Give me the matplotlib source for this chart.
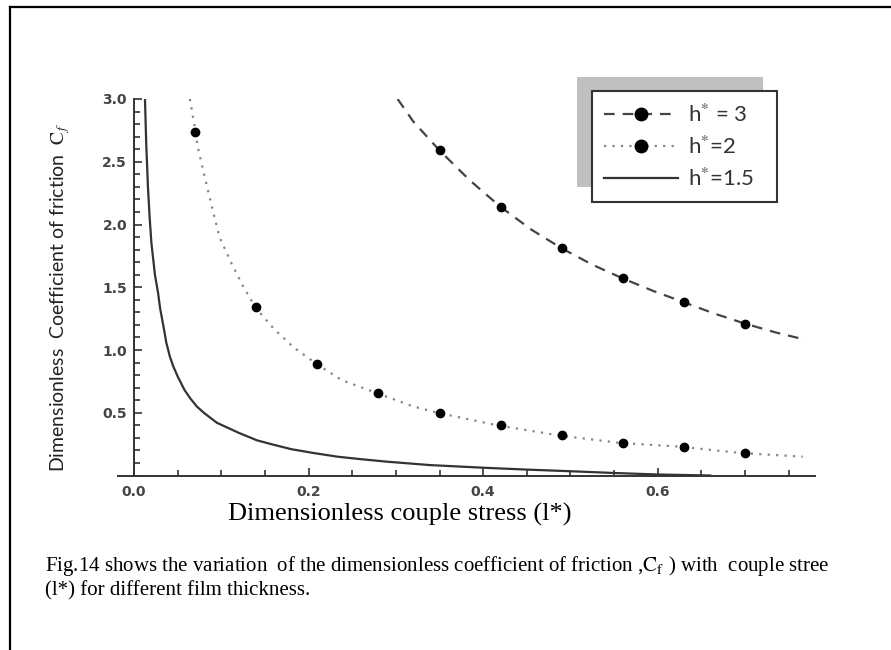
import matplotlib.pyplot as plt
from matplotlib.lines import Line2D
from matplotlib.patches import Rectangle
from matplotlib.ticker import MultipleLocator

plt.rcParams['mathtext.fontset'] = 'stix'

# values
h15_x = [0.0126, 0.013, 0.014, 0.016, 0.018, 0.020, 0.024, 0.0275, 0.030, 0.034,
         0.037, 0.041, 0.045, 0.05, 0.058, 0.065, 0.072, 0.08, 0.095, 0.12,
         0.141, 0.16, 0.18, 0.205, 0.233, 0.26, 0.29, 0.339, 0.40, 0.45,
         0.50, 0.55, 0.60, 0.66]
h15_y = [3.0, 2.9, 2.65, 2.3, 2.05, 1.85, 1.6, 1.46, 1.33, 1.18,
         1.06, 0.95, 0.87, 0.79, 0.68, 0.61, 0.55, 0.50, 0.42, 0.34,
         0.28, 0.245, 0.21, 0.18, 0.15, 0.13, 0.11, 0.083, 0.062, 0.047,
         0.034, 0.02, 0.008, 0.0]

h2_x = [0.064, 0.0705, 0.073, 0.081, 0.090, 0.098, 0.111, 0.124, 0.139, 0.160,
        0.183, 0.209, 0.238, 0.277, 0.32, 0.348, 0.416, 0.486, 0.556, 0.625,
        0.694, 0.766]
h2_y = [3.0, 2.74, 2.62, 2.38, 2.12, 1.90, 1.70, 1.52, 1.34, 1.17,
        1.02, 0.89, 0.76, 0.66, 0.55, 0.50, 0.40, 0.32, 0.26, 0.23,
        0.18, 0.15]
h2_pts_x = [0.07, 0.14, 0.21, 0.28, 0.35, 0.42, 0.49, 0.56, 0.63, 0.70]
h2_pts_y = [2.74, 1.34, 0.89, 0.66, 0.50, 0.40, 0.32, 0.26, 0.23, 0.18]

h3_x = [0.302, 0.32, 0.35, 0.385, 0.42, 0.455, 0.49, 0.525, 0.56, 0.595,
        0.63, 0.665, 0.70, 0.735, 0.77]
h3_y = [3.0, 2.82, 2.59, 2.35, 2.14, 1.96, 1.81, 1.68, 1.57, 1.47,
        1.38, 1.29, 1.21, 1.14, 1.08]
h3_pts_x = [0.35, 0.42, 0.49, 0.56, 0.63, 0.70]
h3_pts_y = [2.59, 2.14, 1.81, 1.57, 1.38, 1.21]

labels = ["h$^{*}$ = 3", "h$^{*}$=2", "h$^{*}$=1.5"]
xticks = [0.0, 0.2, 0.4, 0.6]
yticks = [0.5, 1.0, 1.5, 2.0, 2.5, 3.0]

W, H = 891, 650
fig = plt.figure(figsize=(8.91, 6.5), dpi=100)
ax = fig.add_axes([118 / W, 1 - 475.5 / H, (815 - 118) / W, (475.5 - 99) / H])
ax.patch.set_visible(False)

dash_style = dict(color="#444444", lw=1.6, dashes=(4.8, 3.6))
dot_style = dict(color="#858585", lw=1.6, dashes=(1, 2.8))
solid_style = dict(color="#333333", lw=1.6)

ax.plot(h3_x, h3_y, **dash_style)
ax.plot(h2_x, h2_y, **dot_style)
ax.plot(h15_x, h15_y, **solid_style)
ax.plot(h3_pts_x, h3_pts_y, "o", color="black", ms=6, zorder=3)
ax.plot(h2_pts_x, h2_pts_y, "o", color="black", ms=6, zorder=3)

ax.set_xlim(-0.0183, 0.7801)
ax.set_ylim(0, 3.0)
ax.spines["left"].set_position(("data", 0))
ax.spines["top"].set_visible(False)
ax.spines["right"].set_visible(False)
for s in ("left", "bottom"):
    ax.spines[s].set_color("#333333")
    ax.spines[s].set_linewidth(1.4)

ax.set_xticks(xticks)
ax.set_xticklabels(["%.1f" % v for v in xticks])
ax.set_yticks(yticks)
ax.set_yticklabels(["%.1f" % v for v in yticks])
ax.xaxis.set_minor_locator(MultipleLocator(0.05))
ax.yaxis.set_minor_locator(MultipleLocator(0.1))
ax.tick_params(which="both", direction="in", color="#333333", width=1.2,
               labelsize=10, labelcolor="#454545")
ax.tick_params(which="major", length=6)
ax.tick_params(which="minor", length=4)
ax.tick_params(axis="x", pad=7)
ax.tick_params(axis="y", pad=5)
for t in ax.get_xticklabels() + ax.get_yticklabels():
    t.set_fontweight("bold")

# legend with grey offset shadow
handles = [
    Line2D([], [], marker="o", ms=9, mfc="black", mec="black", **dash_style),
    Line2D([], [], marker="o", ms=9, mfc="black", mec="black", **dot_style),
    Line2D([], [], **solid_style),
]
leg = ax.legend(handles, labels, loc="upper left", mode="expand",
                bbox_to_anchor=(592 / W, 1 - 201 / H, 185 / W, 110 / H),
                bbox_transform=fig.transFigure,
                borderaxespad=0, fancybox=False, framealpha=1, edgecolor="#333333",
                prop={"family": "Lato", "size": 16}, handlelength=3.3,
                handletextpad=0.45, borderpad=0.55, labelspacing=0.45, numpoints=1)
leg.get_frame().set_linewidth(1.5)
for t in leg.get_texts():
    t.set_color("#333333")
ax.add_patch(Rectangle((577 / W, 1 - 187 / H), (763 - 577) / W, (187 - 77) / H,
                       transform=fig.transFigure, facecolor="#c0c0c0",
                       edgecolor="none", clip_on=False, zorder=4))

fig.text(60 / W, 1 - 298 / H, "Dimensionless  Coefficient of friction  $\\mathrm{C}_{f}$",
         rotation=90, ha="center", va="center", family="Lato", fontsize=14,
         color="#222222")
fig.text(400 / W, 1 - 514 / H, "Dimensionless couple stress (l*)", ha="center",
         va="center", family="Liberation Serif", fontsize=19)
fig.text(45 / W, 1 - 566 / H,
         "Fig.14 shows the variation  of the dimensionless coefficient of friction ,"
         "$\\mathrm{C_f}$ ) with  couple stree",
         ha="left", va="center", family="Liberation Serif", fontsize=15)
fig.text(45 / W, 1 - 591 / H, "(l*) for different film thickness.",
         ha="left", va="center", family="Liberation Serif", fontsize=15)

# page border (left and top edges)
fig.add_artist(Line2D([10 / W, 10 / W], [0, 1 - 7 / H], color="black", lw=1.6,
                      transform=fig.transFigure))
fig.add_artist(Line2D([10 / W, 1], [1 - 7 / H, 1 - 7 / H], color="black", lw=1.6,
                      transform=fig.transFigure))

fig.savefig("out.png", dpi=100)
